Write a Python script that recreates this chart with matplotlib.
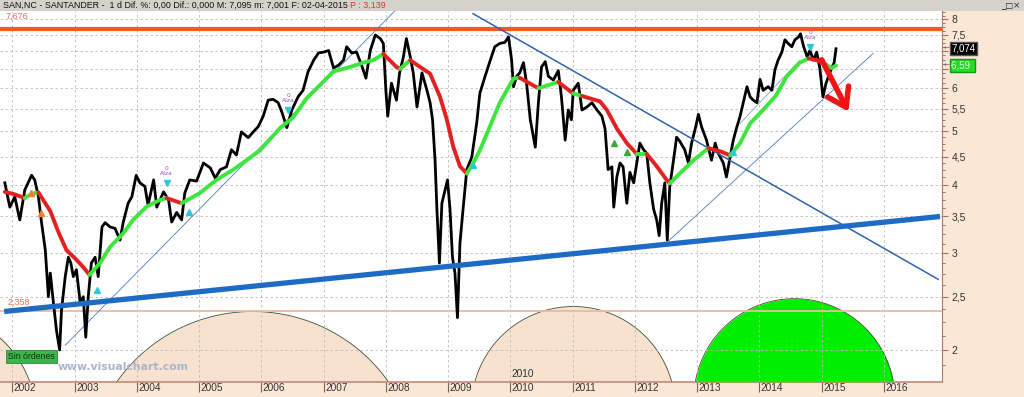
import numpy as np
import matplotlib
matplotlib.use("Agg")
import matplotlib.pyplot as plt
from matplotlib import transforms
from matplotlib.ticker import FixedLocator, FuncFormatter, NullFormatter

################################################################################
# values (SAN,NC daily, 2002 - april 2015)
PRICE_T = [2001.88, 2001.96, 2002.04, 2002.12, 2002.20, 2002.31, 2002.36, 2002.42, 2002.47, 2002.53,
           2002.58, 2002.61, 2002.66, 2002.71, 2002.76, 2002.79, 2002.85, 2002.90, 2002.94, 2002.98,
           2003.03, 2003.09, 2003.14, 2003.18, 2003.22, 2003.27, 2003.33, 2003.38, 2003.44, 2003.49,
           2003.57, 2003.65, 2003.73, 2003.78, 2003.86, 2003.92, 2003.99, 2004.05, 2004.13, 2004.18,
           2004.27, 2004.32, 2004.43, 2004.51, 2004.56, 2004.64, 2004.72, 2004.77, 2004.85, 2004.96,
           2005.07, 2005.18, 2005.26, 2005.34, 2005.44, 2005.52, 2005.60, 2005.68, 2005.79, 2005.87,
           2005.95, 2006.03, 2006.11, 2006.19, 2006.27, 2006.33, 2006.41, 2006.49, 2006.59, 2006.67,
           2006.75, 2006.84, 2006.92, 2007.00, 2007.08, 2007.16, 2007.24, 2007.32, 2007.37, 2007.45,
           2007.53, 2007.61, 2007.68, 2007.75, 2007.83, 2007.91, 2007.96, 2008.00, 2008.03, 2008.09,
           2008.17, 2008.22, 2008.28, 2008.33, 2008.39, 2008.44, 2008.50, 2008.58, 2008.66, 2008.71,
           2008.75, 2008.79, 2008.82, 2008.86, 2008.90, 2008.95, 2008.99, 2009.03, 2009.07, 2009.11,
           2009.15, 2009.19, 2009.24, 2009.30, 2009.38, 2009.46, 2009.51, 2009.59, 2009.67, 2009.75,
           2009.83, 2009.91, 2009.97, 2010.02, 2010.05, 2010.10, 2010.15, 2010.21, 2010.26, 2010.32,
           2010.37, 2010.40, 2010.45, 2010.50, 2010.56, 2010.61, 2010.69, 2010.77, 2010.82, 2010.88,
           2010.93, 2010.98, 2011.01, 2011.09, 2011.15, 2011.23, 2011.31, 2011.39, 2011.47, 2011.52,
           2011.57, 2011.63, 2011.66, 2011.71, 2011.76, 2011.81, 2011.87, 2011.92, 2011.98, 2012.03,
           2012.08, 2012.14, 2012.19, 2012.24, 2012.30, 2012.35, 2012.39, 2012.43, 2012.48, 2012.52,
           2012.56, 2012.62, 2012.67, 2012.72, 2012.80, 2012.86, 2012.91, 2012.97, 2013.02, 2013.07,
           2013.15, 2013.23, 2013.29, 2013.34, 2013.42, 2013.47, 2013.52, 2013.58, 2013.63, 2013.69,
           2013.74, 2013.80, 2013.85, 2013.90, 2013.96, 2014.01, 2014.06, 2014.14, 2014.20, 2014.25,
           2014.30, 2014.36, 2014.41, 2014.46, 2014.52, 2014.57, 2014.63, 2014.66, 2014.71, 2014.77,
           2014.81, 2014.87, 2014.92, 2014.97, 2015.02, 2015.07, 2015.11, 2015.16, 2015.20, 2015.23]
PRICE_V = [4.03, 3.64, 3.80, 3.45, 3.91, 4.16, 4.08, 3.80, 3.41, 3.04,
           2.50, 2.76, 2.44, 2.17, 2.00, 2.36, 2.72, 2.95, 2.88, 2.72,
           2.80, 2.44, 2.50, 2.11, 2.50, 2.88, 2.95, 2.72, 3.35, 3.41,
           3.35, 3.33, 3.17, 3.41, 3.70, 3.80, 4.16, 4.03, 3.97, 3.67,
           4.08, 3.64, 3.88, 3.75, 3.42, 3.56, 3.45, 3.86, 4.08, 4.06,
           4.38, 4.29, 4.11, 4.26, 4.31, 4.63, 4.53, 4.99, 4.87, 4.99,
           5.10, 5.33, 5.70, 5.72, 5.64, 5.42, 5.08, 5.47, 5.78, 5.94,
           6.42, 6.74, 6.95, 6.97, 7.02, 6.52, 6.60, 6.74, 7.13, 6.95,
           6.97, 6.60, 6.25, 7.02, 7.49, 7.38, 7.23, 5.94, 5.33, 6.12,
           5.70, 6.39, 6.82, 7.38, 6.85, 6.39, 5.54, 6.39, 5.94, 5.64,
           5.25, 4.43, 3.61, 2.88, 3.70, 3.91, 4.08, 3.61, 2.95, 2.76,
           2.29, 3.13, 3.61, 4.26, 4.49, 5.19, 5.87, 6.28, 6.70, 7.13,
           7.23, 7.26, 7.43, 6.74, 6.03, 6.30, 6.39, 6.67, 6.12, 5.25,
           4.88, 4.68, 5.64, 6.55, 6.70, 6.30, 6.20, 6.45, 5.78, 4.82,
           5.47, 5.25, 5.94, 6.12, 5.47, 5.54, 5.64, 5.47, 5.33, 5.06,
           4.26, 4.31, 3.64, 4.13, 4.38, 4.31, 3.70, 4.21, 4.03, 4.38,
           4.76, 4.63, 4.56, 4.03, 3.61, 3.45, 3.23, 3.70, 4.03, 3.17,
           3.97, 4.43, 4.88, 4.80, 4.63, 4.38, 4.76, 5.06, 5.37, 5.10,
           4.82, 4.43, 4.76, 4.56, 4.38, 4.13, 4.43, 4.82, 5.06, 5.33,
           5.64, 6.03, 5.78, 5.70, 5.64, 6.22, 5.94, 6.03, 5.94, 6.48,
           6.74, 6.97, 7.34, 7.23, 7.13, 7.34, 7.43, 7.53, 7.13, 6.82,
           7.02, 6.74, 6.97, 6.52, 5.78, 6.12, 6.30, 6.52, 6.67, 7.07]

# moving average, colour of the stretch that starts at each point (r falling / g rising)
MA_T = [2001.88, 2002.04, 2002.20, 2002.31, 2002.42, 2002.61, 2002.74, 2002.87, 2003.03, 2003.14,
        2003.24, 2003.41, 2003.57, 2003.78, 2003.94, 2004.16, 2004.37, 2004.48, 2004.72, 2005.01,
        2005.28, 2005.55, 2005.75, 2005.98, 2006.30, 2006.51, 2006.73, 2006.94, 2007.16, 2007.37,
        2007.64, 2007.80, 2007.96, 2008.17, 2008.23, 2008.39, 2008.55, 2008.71, 2008.87, 2008.98,
        2009.08, 2009.19, 2009.30, 2009.40, 2009.51, 2009.67, 2009.83, 2010.05, 2010.15, 2010.45,
        2010.77, 2011.01, 2011.15, 2011.44, 2011.55, 2011.71, 2011.87, 2012.03, 2012.19, 2012.35,
        2012.51, 2012.56, 2012.72, 2012.94, 2013.18, 2013.37, 2013.53, 2013.69, 2013.85, 2014.06,
        2014.27, 2014.44, 2014.65, 2014.79, 2014.92, 2015.08, 2015.16, 2015.23]
MA_V = [3.88, 3.84, 3.78, 3.85, 3.87, 3.58, 3.28, 3.04, 2.92, 2.83,
        2.74, 2.88, 3.08, 3.26, 3.45, 3.65, 3.75, 3.78, 3.70, 3.86,
        4.08, 4.26, 4.42, 4.62, 5.07, 5.30, 5.75, 6.07, 6.43, 6.52,
        6.67, 6.74, 6.92, 6.55, 6.50, 6.74, 6.55, 6.37, 5.78, 5.25,
        4.70, 4.32, 4.19, 4.37, 4.62, 5.10, 5.64, 6.24, 6.26, 5.99,
        6.15, 5.86, 5.80, 5.67, 5.47, 5.06, 4.76, 4.55, 4.55, 4.32,
        4.08, 4.02, 4.19, 4.43, 4.66, 4.60, 4.52, 4.76, 5.17, 5.47,
        5.82, 6.30, 6.67, 6.79, 6.74, 6.60, 6.52, 6.59]
MA_C = "rrggrrrrrrgggggggrggggggggggggggrrgrrrrrrrggggggrgrgrrrrrgrrrggg" \
       "rrgggggggrrgg"

LEVEL_HIGH = 7.676
LEVEL_LOW = 2.358

SUPPORT_T, SUPPORT_V = [2001.87, 2016.90], [2.35, 3.50]
DOWN_T, DOWN_V = [2009.40, 2016.87], [8.19, 2.69]
UP1_T, UP1_V = [2002.85, 2008.15], [2.04, 8.30]
UP2_T, UP2_V = [2012.54, 2015.83], [3.16, 6.94]
CHAN_T, CHAN_V = [2013.69, 2014.65], [5.17, 6.74]
ARROW_T, ARROW_V = [2015.00, 2015.43], [6.75, 5.43]

# cycle arcs at the bottom
ARC_START = [1999.07, 2003.68, 2009.43, 2012.97]
ARC_END = [2002.28, 2008.04, 2012.59, 2016.15]
ARC_PEAK = [2.35, 2.35, 2.40, 2.48]
ARC_GREEN = [False, False, False, True]

# signal marks
CYAN_UP_T, CYAN_UP_V = [2003.36, 2004.84, 2009.40, 2013.57], [2.57, 3.57, 4.35, 4.59]
CYAN_DN_T, CYAN_DN_V = [2004.48, 2006.43, 2014.82], [4.03, 5.47, 7.13]
GREEN_UP_T, GREEN_UP_V = [2011.66, 2011.87], [4.76, 4.59]
ORANGE_T, ORANGE_V = [2002.30, 2002.46], [3.86, 3.55]

LAST_PRICE = 7.074
LAST_MA = 6.59
YEARS = list(range(2002, 2017))
Y_MAJOR = [2, 2.5, 3, 3.5, 4, 4.5, 5, 5.5, 6, 6.5, 7, 7.5, 8]

HEADER = "SAN,NC - SANTANDER -  1 d Dif. %: 0,00 Dif.: 0,000 M: 7,095 m: 7,001 F: 02-04-2015 "

################################################################################
W, H = 1024, 397
AX_L, AX_R, AX_T, AX_B = 0, 942, 10.5, 381.7
XLIM = (2001.8024, 2016.9325)
YLIM = (1.751, 8.30)

PEACH = "#FBE7D6"
FONT = "Liberation Sans"

fig = plt.figure(figsize=(W / 100, H / 100), dpi=100, facecolor=PEACH)
ax = fig.add_axes([AX_L / W, 1 - AX_B / H, (AX_R - AX_L) / W, (AX_B - AX_T) / H])
ax.set_facecolor("white")
ax.set_yscale("log")
ax.set_xlim(*XLIM)
ax.set_ylim(*YLIM)

# header band
fig.patches.append(plt.Rectangle((0, 1 - AX_T / H), 1, AX_T / H, transform=fig.transFigure,
                                 facecolor="#D5D2CC", edgecolor="none", zorder=0))
hdr = fig.text(3 / W, 1 - 5.5 / H, HEADER, fontsize=6.4, family=FONT, va="center", color="#111")
fig.canvas.draw()
bb = hdr.get_window_extent()
fig.text(bb.x1 / W, 1 - 5.5 / H, "P : 3,139", fontsize=6.4, family=FONT, va="center", color="#E03030")
fig.text(1020 / W, 1 - 5.5 / H, "_□×", fontsize=6, ha="right", va="center", color="#222")

# arcs (circle segments in screen space)
px_year = (AX_R - AX_L) / (XLIM[1] - XLIM[0])
px_ln = (AX_B - AX_T) / np.log(YLIM[1] / YLIM[0])
for s, e, pk, green in zip(ARC_START, ARC_END, ARC_PEAK, ARC_GREEN):
    half = (e - s) / 2 * px_year
    hgt = np.log(pk / YLIM[0]) * px_ln
    R = (half ** 2 + hgt ** 2) / (2 * hgt)
    xs = np.linspace(-half, half, 300)
    hs = np.sqrt(R ** 2 - xs ** 2) - (R - hgt)
    t = (s + e) / 2 + xs / px_year
    v = YLIM[0] * np.exp(hs / px_ln)
    ax.fill_between(t, YLIM[0] * 0.9, v, color="#00EE00" if green else "#F7E2CF",
                    lw=0, zorder=0.2)
    ax.plot(t, v, color="#3E4E2E", lw=0.6, zorder=0.3)

# grid
ax.set_axisbelow(True)
ax.set_xticks(YEARS)
ax.yaxis.set_major_locator(FixedLocator(Y_MAJOR))
ax.yaxis.set_minor_locator(FixedLocator(
    [v for v in np.arange(1.75, 8.3, 0.125) if round(v * 2) != v * 2]))
ax.grid(True, which="major", color="#BBBBBB", lw=0.6, ls=(0, (3, 3)))

# levels and trend lines
ax.axhline(LEVEL_HIGH, color="#EE5A24", lw=3.0, zorder=2)
ax.axhline(LEVEL_LOW, color="#EDB8A6", lw=1.3, zorder=1)
ax.text(6 / (AX_R - AX_L), LEVEL_HIGH * 1.035, "7,676", transform=ax.get_yaxis_transform(),
        fontsize=6.5, family=FONT, color="#E07058", va="bottom")
ax.text(8 / (AX_R - AX_L), LEVEL_LOW * 1.015, "2,358", transform=ax.get_yaxis_transform(),
        fontsize=6.5, family=FONT, color="#E07058", va="bottom")
ax.plot(SUPPORT_T, SUPPORT_V, color="#1E6BC6", lw=3.8, zorder=3.5, solid_capstyle="butt")
ax.plot(DOWN_T, DOWN_V, color="#2F63AE", lw=1.1, zorder=3.4)
ax.plot(UP1_T, UP1_V, color="#4C7CC4", lw=0.6, zorder=2.5)
ax.plot(UP2_T, UP2_V, color="#4C7CC4", lw=0.6, zorder=2.5)
ax.plot(CHAN_T, CHAN_V, color="#6C94D0", lw=0.5, zorder=2.5)

# price and moving average
ax.plot(PRICE_T, PRICE_V, color="black", lw=2.0, zorder=3)
start = 0
for i in range(1, len(MA_T)):
    if i == len(MA_T) - 1 or MA_C[i] != MA_C[start]:
        ax.plot(MA_T[start:i + 1], MA_V[start:i + 1],
                color="#E42020" if MA_C[start] == "r" else "#3DE63D",
                lw=2.8, solid_capstyle="round", solid_joinstyle="round", zorder=4)
        start = i

# signals
ax.plot(CYAN_UP_T, CYAN_UP_V, "^", color="#2EC8D8", ms=4.5, zorder=5)
ax.plot(CYAN_DN_T, CYAN_DN_V, "v", color="#2EC8D8", ms=4.5, zorder=5)
ax.plot(GREEN_UP_T, GREEN_UP_V, "^", color="#3BAA3B", ms=5, zorder=5)
ax.plot(ORANGE_T, ORANGE_V, "^", color="#F08030", ms=4.5, zorder=5)
for t, v in zip(CYAN_DN_T, CYAN_DN_V):
    ax.annotate("0\nAlza", (t, v), xytext=(0, 5), textcoords="offset points", ha="center",
                va="bottom", fontsize=4.3, color="#9A50B8", linespacing=0.9, zorder=5)

ax.annotate("", xy=(ARROW_T[1], ARROW_V[1]), xytext=(ARROW_T[0], ARROW_V[0]),
            arrowprops=dict(arrowstyle="->,head_length=0.75,head_width=0.5", color="#F01414",
                            lw=4.0, mutation_scale=17, shrinkA=0, shrinkB=0), zorder=6)

# right axis
ax.yaxis.tick_right()
ax.yaxis.set_major_formatter(FuncFormatter(
    lambda v, p: "" if v in (6.5, 7) else f"{v:g}".replace(".", ",")))
ax.yaxis.set_minor_formatter(NullFormatter())
ax.tick_params(axis="y", which="major", length=4, width=0.8, color="#A07060",
               labelsize=7.5, labelcolor="#333", pad=3)
ax.tick_params(axis="y", which="minor", length=2.5, width=0.7, color="#A07060")
for lab in ax.get_yticklabels():
    lab.set_family(FONT)

for sp in ["left", "top"]:
    ax.spines[sp].set_visible(False)
ax.spines["right"].set_color("#B07A66")
ax.spines["bottom"].set_color("#C08A78")
ax.spines["bottom"].set_linewidth(1.2)

# value boxes on the axis
yt = ax.get_yaxis_transform()
ax.text(1.01, LAST_PRICE, "7,074", transform=yt, fontsize=7, family=FONT, color="white",
        va="center", bbox=dict(boxstyle="square,pad=0.15", fc="black", ec="#555"), clip_on=False)
ax.text(1.01, LAST_MA, "6,59 ", transform=yt, fontsize=7, family=FONT, color="#DDFFDD",
        va="center", bbox=dict(boxstyle="square,pad=0.15", fc="#22DD22", ec="#119911"), clip_on=False)
for v in (LAST_PRICE, LAST_MA):
    ax.text(1.002, v, "←", transform=yt, fontsize=5, color="#A05040", va="center", clip_on=False)

# bottom axis, labels to the right of each tick
ax.set_xticklabels([])
ax.tick_params(axis="x", length=7, width=0.8, color="#806050")
xt = transforms.offset_copy(ax.get_xaxis_transform(), fig=fig, x=1.5, y=-1.5, units="dots")
for y in YEARS:
    ax.text(y, 0, str(y), transform=xt, fontsize=7.3, family=FONT, color="#333",
            ha="left", va="top", clip_on=False)
ax.text(2010.0, 0.005, "2010", transform=transforms.offset_copy(
    ax.get_xaxis_transform(), fig=fig, x=1.5, y=1, units="dots"),
    fontsize=7.3, family=FONT, color="#333", ha="left", va="bottom")

# badges
fig.text(8 / W, 1 - 356.5 / H, "Sin órdenes", fontsize=6.3, family=FONT, color="#113311",
         va="center", bbox=dict(boxstyle="square,pad=0.2", fc="#3DB54A", ec="#2A8A34", lw=0.6))
fig.text(58 / W, 1 - 366.5 / H, "www.visualchart.com", fontsize=7.8, fontweight="bold",
         color="#A9B4CC", va="center")

fig.savefig("out.png", dpi=100, facecolor=PEACH)
